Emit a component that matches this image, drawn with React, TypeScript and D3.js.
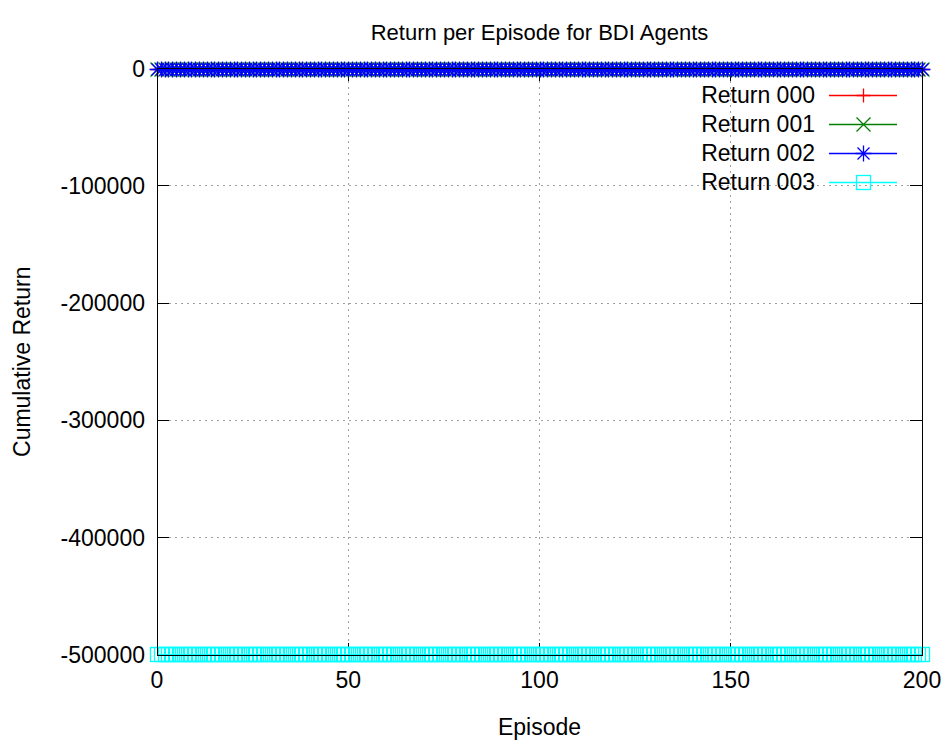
import React from 'react';
import * as d3 from 'd3';

const episodes: number[] = d3.range(0, 201);

const return000: number[] = [
  0,0,0,0,0,0,0,0,0,0,0,0,0,0,0,0,0,0,0,0,
  0,0,0,0,0,0,0,0,0,0,0,0,0,0,0,0,0,0,0,0,
  0,0,0,0,0,0,0,0,0,0,0,0,0,0,0,0,0,0,0,0,
  0,0,0,0,0,0,0,0,0,0,0,0,0,0,0,0,0,0,0,0,
  0,0,0,0,0,0,0,0,0,0,0,0,0,0,0,0,0,0,0,0,
  0,0,0,0,0,0,0,0,0,0,0,0,0,0,0,0,0,0,0,0,
  0,0,0,0,0,0,0,0,0,0,0,0,0,0,0,0,0,0,0,0,
  0,0,0,0,0,0,0,0,0,0,0,0,0,0,0,0,0,0,0,0,
  0,0,0,0,0,0,0,0,0,0,0,0,0,0,0,0,0,0,0,0,
  0,0,0,0,0,0,0,0,0,0,0,0,0,0,0,0,0,0,0,0,
  0,
];
const return001: number[] = [
  0,0,0,0,0,0,0,0,0,0,0,0,0,0,0,0,0,0,0,0,
  0,0,0,0,0,0,0,0,0,0,0,0,0,0,0,0,0,0,0,0,
  0,0,0,0,0,0,0,0,0,0,0,0,0,0,0,0,0,0,0,0,
  0,0,0,0,0,0,0,0,0,0,0,0,0,0,0,0,0,0,0,0,
  0,0,0,0,0,0,0,0,0,0,0,0,0,0,0,0,0,0,0,0,
  0,0,0,0,0,0,0,0,0,0,0,0,0,0,0,0,0,0,0,0,
  0,0,0,0,0,0,0,0,0,0,0,0,0,0,0,0,0,0,0,0,
  0,0,0,0,0,0,0,0,0,0,0,0,0,0,0,0,0,0,0,0,
  0,0,0,0,0,0,0,0,0,0,0,0,0,0,0,0,0,0,0,0,
  0,0,0,0,0,0,0,0,0,0,0,0,0,0,0,0,0,0,0,0,
  0,
];
const return002: number[] = [
  0,0,0,0,0,0,0,0,0,0,0,0,0,0,0,0,0,0,0,0,
  0,0,0,0,0,0,0,0,0,0,0,0,0,0,0,0,0,0,0,0,
  0,0,0,0,0,0,0,0,0,0,0,0,0,0,0,0,0,0,0,0,
  0,0,0,0,0,0,0,0,0,0,0,0,0,0,0,0,0,0,0,0,
  0,0,0,0,0,0,0,0,0,0,0,0,0,0,0,0,0,0,0,0,
  0,0,0,0,0,0,0,0,0,0,0,0,0,0,0,0,0,0,0,0,
  0,0,0,0,0,0,0,0,0,0,0,0,0,0,0,0,0,0,0,0,
  0,0,0,0,0,0,0,0,0,0,0,0,0,0,0,0,0,0,0,0,
  0,0,0,0,0,0,0,0,0,0,0,0,0,0,0,0,0,0,0,0,
  0,0,0,0,0,0,0,0,0,0,0,0,0,0,0,0,0,0,0,0,
  0,
];
const return003: number[] = [
  -499000,-499000,-499000,-499000,-499000,-499000,-499000,-499000,-499000,-499000,-499000,-499000,-499000,-499000,-499000,-499000,-499000,-499000,-499000,-499000,
  -499000,-499000,-499000,-499000,-499000,-499000,-499000,-499000,-499000,-499000,-499000,-499000,-499000,-499000,-499000,-499000,-499000,-499000,-499000,-499000,
  -499000,-499000,-499000,-499000,-499000,-499000,-499000,-499000,-499000,-499000,-499000,-499000,-499000,-499000,-499000,-499000,-499000,-499000,-499000,-499000,
  -499000,-499000,-499000,-499000,-499000,-499000,-499000,-499000,-499000,-499000,-499000,-499000,-499000,-499000,-499000,-499000,-499000,-499000,-499000,-499000,
  -499000,-499000,-499000,-499000,-499000,-499000,-499000,-499000,-499000,-499000,-499000,-499000,-499000,-499000,-499000,-499000,-499000,-499000,-499000,-499000,
  -499000,-499000,-499000,-499000,-499000,-499000,-499000,-499000,-499000,-499000,-499000,-499000,-499000,-499000,-499000,-499000,-499000,-499000,-499000,-499000,
  -499000,-499000,-499000,-499000,-499000,-499000,-499000,-499000,-499000,-499000,-499000,-499000,-499000,-499000,-499000,-499000,-499000,-499000,-499000,-499000,
  -499000,-499000,-499000,-499000,-499000,-499000,-499000,-499000,-499000,-499000,-499000,-499000,-499000,-499000,-499000,-499000,-499000,-499000,-499000,-499000,
  -499000,-499000,-499000,-499000,-499000,-499000,-499000,-499000,-499000,-499000,-499000,-499000,-499000,-499000,-499000,-499000,-499000,-499000,-499000,-499000,
  -499000,-499000,-499000,-499000,-499000,-499000,-499000,-499000,-499000,-499000,-499000,-499000,-499000,-499000,-499000,-499000,-499000,-499000,-499000,-499000,
  -499000,
];

const seriesNames: string[] = ['Return 000', 'Return 001', 'Return 002', 'Return 003'];
const seriesColors: string[] = ['#ff0000', '#008000', '#0000ff', '#00ffff'];
const seriesMarkers: string[] = ['plus', 'cross', 'star', 'square'];
const seriesValues: number[][] = [return000, return001, return002, return003];

const xTicks: number[] = [0, 50, 100, 150, 200];
const yTicks: number[] = [0, -100000, -200000, -300000, -400000, -500000];

const W = 947;
const H = 744;
const L = 157;
const R = 922;
const T = 68.5;
const B = 655;
const FONT = '"Liberation Sans", Arial, sans-serif';
const FS = 23;
const TICK = 12;

function Marker({ type, x, y, color }: { type: string; x: number; y: number; color: string }) {
  const cx = Math.round(x) + 0.5;
  const cy = Math.round(y) + 0.5;
  if (type === 'plus') {
    const s = 7;
    return <path d={`M${cx - s},${cy}H${cx + s}M${cx},${cy - s}V${cy + s}`} stroke={color} strokeWidth={1.3} fill="none" />;
  }
  if (type === 'cross') {
    const d = 7;
    return <path d={`M${cx - d},${cy - d}L${cx + d},${cy + d}M${cx - d},${cy + d}L${cx + d},${cy - d}`} stroke={color} strokeWidth={1.3} fill="none" />;
  }
  if (type === 'star') {
    const s = 8;
    const d = 6;
    return (
      <path
        d={`M${cx - s},${cy}H${cx + s}M${cx},${cy - s}V${cy + s}M${cx - d},${cy - d}L${cx + d},${cy + d}M${cx - d},${cy + d}L${cx + d},${cy - d}`}
        stroke={color}
        strokeWidth={1.3}
        fill="none"
      />
    );
  }
  const s = 7;
  return <rect x={cx - s} y={cy - s} width={2 * s} height={2 * s} stroke={color} strokeWidth={1.3} fill="none" />;
}

export default function App() {
  const x = d3.scaleLinear().domain([0, 200]).range([L, R]);
  const y = d3.scaleLinear().domain([-500000, 0]).range([B, T]);

  const line = d3
    .line<[number, number]>()
    .x((d) => x(d[0]))
    .y((d) => Math.round(y(d[1])) + 0.5);

  const legendX0 = 829;
  const legendX1 = 897;
  const legendTextX = 815;
  const legendY0 = 95;
  const legendDY = 29;

  return (
    <svg
      width={W}
      height={H}
      style={{ position: 'absolute', left: 0, top: 0, background: '#fff', display: 'block' }}
      fontFamily={FONT}
    >
      <rect x={0} y={0} width={W} height={H} fill="#fff" />
      {/* grid */}
      <g shapeRendering="crispEdges">
        {yTicks
          .filter((t) => t !== 0 && t !== -500000)
          .map((t) => (
            <line key={'gy' + t} x1={L} x2={R} y1={y(t)} y2={y(t)} stroke="#a0a0a0" strokeWidth={1} strokeDasharray="2,4" />
          ))}
        {xTicks
          .filter((t) => t !== 0 && t !== 200)
          .map((t) => (
            <line key={'gx' + t} x1={x(t)} x2={x(t)} y1={T} y2={B} stroke="#a0a0a0" strokeWidth={1} strokeDasharray="2,4" />
          ))}
        {yTicks.map((t) => (
          <g key={'ty' + t}>
            <line x1={L} x2={L + TICK} y1={y(t)} y2={y(t)} stroke="#000" />
            <line x1={R} x2={R - TICK} y1={y(t)} y2={y(t)} stroke="#000" />
          </g>
        ))}
        {xTicks.map((t) => (
          <g key={'tx' + t}>
            <line x1={x(t)} x2={x(t)} y1={B} y2={B - TICK} stroke="#000" />
            <line x1={x(t)} x2={x(t)} y1={T} y2={T + TICK} stroke="#000" />
          </g>
        ))}
      </g>
      {yTicks.map((t) => (
        <text key={'yl' + t} x={145} y={y(t)} dy="0.35em" textAnchor="end" fontSize={FS} fill="#000">
          {String(t)}
        </text>
      ))}
      {xTicks.map((t) => (
        <text key={'xl' + t} x={x(t)} y={688} textAnchor="middle" fontSize={FS} fill="#000">
          {String(t)}
        </text>
      ))}
      {/* series */}
      {seriesValues.map((vals, i) => {
        const pts: [number, number][] = episodes.map((e, j) => [e, vals[j]]);
        return (
          <g key={'s' + i}>
            <path d={line(pts) || ''} stroke={seriesColors[i]} strokeWidth={1} fill="none" shapeRendering="crispEdges" />
            {pts.map((p, j) => (
              <Marker key={j} type={seriesMarkers[i]} x={x(p[0])} y={y(p[1])} color={seriesColors[i]} />
            ))}
          </g>
        );
      })}
      {/* frame */}
      <rect x={L} y={T} width={R - L} height={B - T} fill="none" stroke="#000" strokeWidth={1} shapeRendering="crispEdges" />
      {/* legend */}
      {seriesNames.map((n, i) => {
        const ly = legendY0 + i * legendDY;
        return (
          <g key={'lg' + i}>
            <text x={legendTextX} y={ly} dy="0.35em" textAnchor="end" fontSize={FS} fill="#000">
              {n}
            </text>
            <line x1={legendX0} x2={legendX1} y1={ly + 0.5} y2={ly + 0.5} stroke={seriesColors[i]} strokeWidth={1.3} />
            <Marker type={seriesMarkers[i]} x={(legendX0 + legendX1) / 2} y={ly} color={seriesColors[i]} />
          </g>
        );
      })}
      {/* titles */}
      <text x={(L + R) / 2} y={40} textAnchor="middle" fontSize={22} fill="#000">
        Return per Episode for BDI Agents
      </text>
      <text x={(L + R) / 2} y={735} textAnchor="middle" fontSize={FS} fill="#000">
        Episode
      </text>
      <text transform={`translate(30, ${(T + B) / 2}) rotate(-90)`} textAnchor="middle" fontSize={FS} fill="#000">
        Cumulative Return
      </text>
    </svg>
  );
}
